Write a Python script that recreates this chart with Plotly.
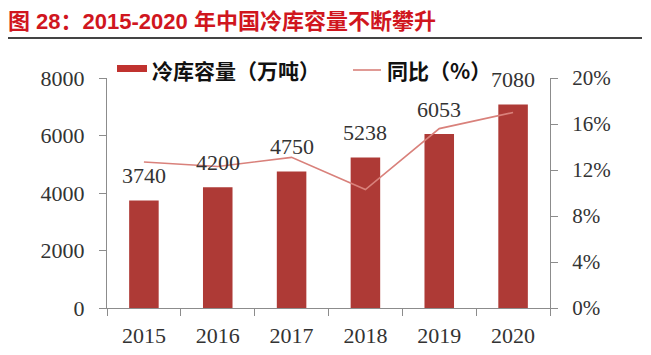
import plotly.graph_objects as go

years = ["2015", "2016", "2017", "2018", "2019", "2020"]
capacity = [3740, 4200, 4750, 5238, 6053, 7080]
yoy = [12.7, 12.3, 13.1, 10.3, 15.6, 17.0]

title_text = "图 28：2015-2020 年中国冷库容量不断攀升"
bar_name = "冷库容量（万吨）"
line_name = "同比（%）"

BAR_COLOR = "#AE3A36"
LINE_COLOR = "#D9817B"
AXIS_COLOR = "#8C8C8C"
TEXT_COLOR = "#333333"
SERIF = "Liberation Serif, Times New Roman, serif"
CJK = "Noto Sans CJK SC, sans-serif"

W, H = 651, 355
OFF = 8  # default page body margin
# target plot area in page pixels: x 107..550, y 78..308
PX0, PX1, PY0, PY1 = 107, 550, 78, 308
L = PX0 - OFF
T = PY0 - OFF
R = W - L - (PX1 - PX0)
B = H - T - (PY1 - PY0)
pw = PX1 - PX0
ph = PY1 - PY0

fig = go.Figure()
fig.add_trace(go.Bar(x=years, y=capacity, marker=dict(color=BAR_COLOR, line=dict(width=0)),
                     name=bar_name, showlegend=False, yaxis="y"))
fig.add_trace(go.Scatter(x=years, y=yoy, mode="lines", line=dict(color=LINE_COLOR, width=1.6),
                         name=line_name, showlegend=False, yaxis="y2"))

annotations = []
for i, v in enumerate(capacity):
    annotations.append(dict(x=i, y=v, xref="x", yref="y", text=str(v), showarrow=False,
                            yanchor="bottom", yshift=10,
                            font=dict(family=SERIF, size=22, color=TEXT_COLOR)))

def px(xp):
    return (xp - PX0) / pw

def py(yp):
    return (PY1 - yp) / ph

# legend (manual)
shapes = [
    dict(type="rect", xref="paper", yref="paper", x0=px(117), x1=px(147), y0=py(72), y1=py(65),
         fillcolor="#C0322F", line=dict(width=0)),
    dict(type="line", xref="paper", yref="paper", x0=px(353), x1=px(381), y0=py(70), y1=py(70),
         line=dict(color=LINE_COLOR, width=1.6)),
    dict(type="line", xref="paper", yref="paper", x0=px(8), x1=px(642), y0=py(38), y1=py(38),
         line=dict(color="#444444", width=2)),
]
annotations.append(dict(x=px(150), y=py(70), xref="paper", yref="paper", text="<b>" + bar_name + "</b>",
                        showarrow=False, xanchor="left", yanchor="middle",
                        font=dict(family=CJK, size=21, color="#111111")))
annotations.append(dict(x=px(385), y=py(70), xref="paper", yref="paper", text="<b>" + line_name + "</b>",
                        showarrow=False, xanchor="left", yanchor="middle",
                        font=dict(family=CJK, size=21, color="#111111")))

fig.update_layout(
    width=W, height=H,
    margin=dict(l=L, r=R, t=T, b=B, pad=0),
    paper_bgcolor="white", plot_bgcolor="white",
    bargap=0.6,
    title=dict(text="<b>" + title_text + "</b>", x=(8 - OFF) / W, xanchor="left",
               y=1 - (21 - OFF) / H, yanchor="middle",
               font=dict(family="Liberation Sans, Noto Sans CJK SC, sans-serif", size=22, color="#D0161E")),
    xaxis=dict(type="category", range=[-0.5, len(years) - 0.5], showline=True, linecolor=AXIS_COLOR, linewidth=1,
               ticks="outside", tickson="boundaries", ticklen=7, tickcolor=AXIS_COLOR,
               showgrid=False, tickfont=dict(family=SERIF, size=22, color=TEXT_COLOR),
               ticklabelstandoff=8, tickangle=0),
    yaxis=dict(range=[0, 8000], dtick=2000, showline=True, linecolor=AXIS_COLOR, linewidth=1,
               ticks="outside", ticklen=7, tickcolor=AXIS_COLOR, showgrid=False, zeroline=False,
               tickfont=dict(family=SERIF, size=22, color=TEXT_COLOR), ticklabelstandoff=10),
    yaxis2=dict(range=[0, 20], dtick=4, ticksuffix="%", overlaying="y", side="right",
                showline=True, linecolor=AXIS_COLOR, linewidth=1,
                ticks="outside", ticklen=7, tickcolor=AXIS_COLOR, showgrid=False, zeroline=False,
                tickfont=dict(family=SERIF, size=21, color=TEXT_COLOR), ticklabelstandoff=10),
    annotations=annotations,
    shapes=shapes,
)

fig.write_html("out.html")
